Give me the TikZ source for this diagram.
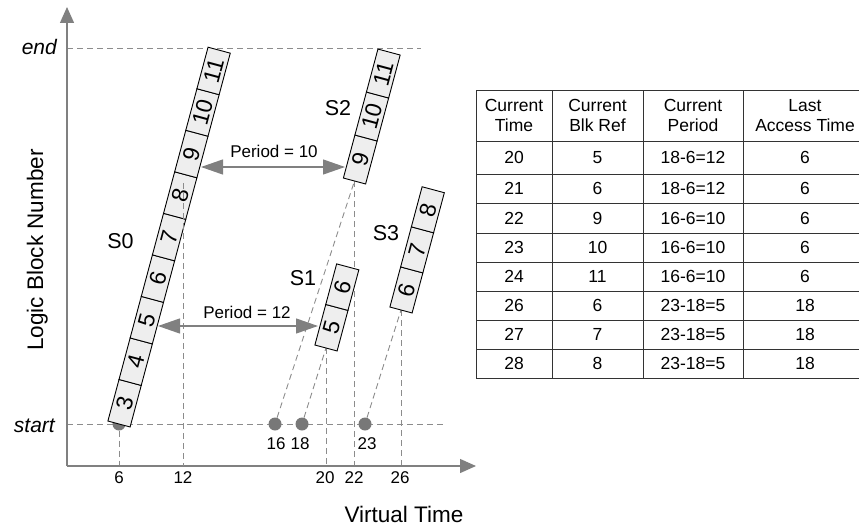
\documentclass[tikz,border=0pt]{standalone}
\usepackage{fontspec}
\setmainfont{Liberation Sans}
\usetikzlibrary{arrows.meta,calc}
\definecolor{axisgray}{HTML}{808080}
\definecolor{dashgray}{HTML}{8C8C8C}
\definecolor{cellfill}{HTML}{EEEEEE}
\definecolor{dotgray}{HTML}{787878}
\definecolor{tablegray}{HTML}{333333}
\newcommand{\myfs}[1]{\fontsize{#1}{#1}\selectfont}
\begin{document}
\begin{tikzpicture}[x=1pt,y=-1pt,
  axis/.style={draw=axisgray,line width=1.3pt,-{Triangle[length=16pt,width=14pt]}},
  dline/.style={draw=dashgray,line width=0.9pt,dash pattern=on 6pt off 4pt},
  parrow/.style={draw=axisgray,line width=1.2pt,{Triangle[length=22pt,width=15pt]}-{Triangle[length=22pt,width=15pt]}},
  cell/.style={draw=black,line width=0.9pt,fill=cellfill,rotate=75,minimum height=23pt,inner sep=0pt,font=\myfs{23}},
  dot/.style={circle,fill=dotgray,minimum size=13pt,inner sep=0pt},
  tline/.style={draw=tablegray,line width=0.9pt},
  lbl/.style={anchor=base,inner sep=0pt,font=\myfs{17}},
  slbl/.style={anchor=base,inner sep=0pt,font=\myfs{21.5}},
  tcell/.style={inner sep=0pt,font=\myfs{17.5}},
  thead/.style={inner sep=0pt,align=center,font=\fontsize{17.5}{19.5}\selectfont},
]
\useasboundingbox (0,0) rectangle (859,527);

% key coordinates
\coordinate (O) at (67,466);
\coordinate (ytip) at (67,7);
\coordinate (xtip) at (476,466);
\coordinate (endL) at (67,48);
\coordinate (endR) at (421,48);
\coordinate (startL) at (67,424);
\coordinate (startR) at (443,424);
\coordinate (s0b) at (119,424);
\coordinate (s1b) at (326,348);
\coordinate (s2b) at (354.5,181);
\coordinate (s3b) at (401,310);
\coordinate (t12) at (183,183);

% reference lines
\draw[dline] (endL) -- (endR);
\draw[dline] (startL) -- (startR);

% dots on the start line
\node[dot] (d6) at (119,424) {};
\node[dot] (d16) at (275,424) {};
\node[dot] (d18) at (302,424) {};
\node[dot] (d23) at (365,424) {};

% dashed connectors
\draw[dline] (d6) -- (d6 |- O);
\draw[dline] (s1b) -- (s1b |- O);
\draw[dline] (s2b) -- (s2b |- O);
\draw[dline] (s3b) -- (s3b |- O);
\draw[dline] (d16) -- (s2b);
\draw[dline] (d18) -- (s1b);
\draw[dline] (d23) -- (s3b);

% axes
\draw[axis] (O) -- (ytip);
\draw[axis] (O) -- (xtip);

% strips
\foreach \t [count=\i from 0] in {3,...,11}
  \node[cell,minimum width=43pt] (s0c\t) at ($(s0b)+({(\i+0.5)*43*cos(75)},{-(\i+0.5)*43*sin(75)})$) {\t};
\foreach \t [count=\i from 0] in {5,6}
  \node[cell,minimum width=42pt] (s1c\t) at ($(s1b)+({(\i+0.5)*42*cos(75)},{-(\i+0.5)*42*sin(75)})$) {\t};
\foreach \t [count=\i from 0] in {9,10,11}
  \node[cell,minimum width=44.5pt] (s2c\t) at ($(s2b)+({(\i+0.5)*44.5*cos(75)},{-(\i+0.5)*44.5*sin(75)})$) {\t};
\foreach \t [count=\i from 0] in {6,7,8}
  \node[cell,minimum width=41.5pt] (s3c\t) at ($(s3b)+({(\i+0.5)*41.5*cos(75)},{-(\i+0.5)*41.5*sin(75)})$) {\t};

\draw[dline] (t12) -- (t12 |- O);

% period arrows
\coordinate (p10l) at (201,167);
\coordinate (p10r) at (345,167);
\coordinate (p12l) at (158,326);
\coordinate (p12r) at (318,326);
\draw[parrow] (p10l) -- (p10r);
\draw[parrow] (p12l) -- (p12r);
\node[lbl] (per10) at (274,157) {Period = 10};
\node[lbl] (per12) at (247,318) {Period = 12};

% strip labels
\node[slbl] (S0) at (120.5,248) {S0};
\node[slbl] (S1) at (303,285) {S1};
\node[slbl] (S2) at (338,115) {S2};
\node[slbl] (S3) at (386,240) {S3};

% axis labels
\node[anchor=base east,inner sep=0pt,font=\myfs{21}\itshape] (endlbl) at (57,55) {end};
\node[anchor=base east,inner sep=0pt,font=\myfs{21}\itshape] (startlbl) at (55,432) {start};
\node[anchor=base,inner sep=0pt,rotate=90,font=\myfs{22.5}] (ylbl) at (43,250) {Logic Block Number};
\node[anchor=base,inner sep=0pt,font=\myfs{22.5}] (xlbl) at (404,522) {Virtual Time};

% tick labels
\foreach \v/\x in {6/119,12/183,20/325,22/354,26/400}
  \node[lbl] (tk\v) at (\x,483) {\v};
\foreach \v/\x in {16/276,18/300,23/367}
  \node[lbl] (pl\v) at (\x,449) {\v};

% table
\foreach \y in {90,141,174,203,233,262,291,320,349,378}
  \draw[tline] (476,\y) -- (859,\y);
\foreach \x in {476,552,643,743}
  \draw[tline] (\x,90) -- (\x,378);
\node[thead] (h1) at (514,115.5) {Current\\Time};
\node[thead] (h2) at (597.5,115.5) {Current\\Blk Ref};
\node[thead] (h3) at (693,115.5) {Current\\Period};
\node[thead] (h4) at (805,115.5) {Last\\Access Time};
\foreach \y/\a/\b/\c/\d [count=\i] in {
  157.5/20/5/18-6=12/6,
  188.5/21/6/18-6=12/6,
  218/22/9/16-6=10/6,
  247.5/23/10/16-6=10/6,
  276.5/24/11/16-6=10/6,
  305.5/26/6/23-18=5/18,
  334.5/27/7/23-18=5/18,
  363.5/28/8/23-18=5/18} {
  \node[tcell] (ta\i) at (514,\y) {\a};
  \node[tcell] (tb\i) at (597.5,\y) {\b};
  \node[tcell] (tc\i) at (693,\y) {\c};
  \node[tcell] (td\i) at (805,\y) {\d};
}
\end{tikzpicture}
\end{document}
